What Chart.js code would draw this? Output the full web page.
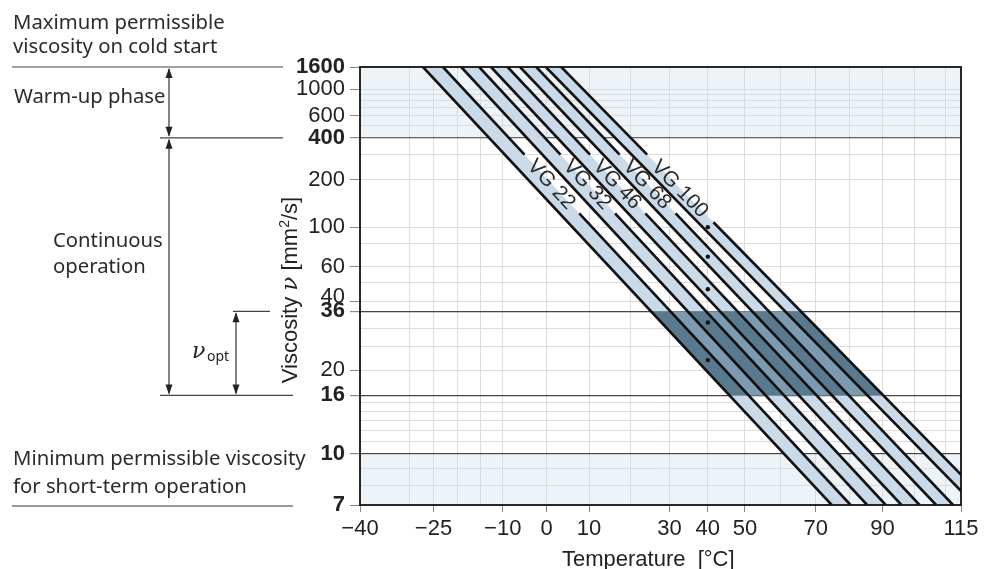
<!DOCTYPE html>
<html><head><meta charset="utf-8">
<script src="https://cdn.jsdelivr.net/npm/chart.js@4.4.1/dist/chart.umd.min.js"></script>
<style>html,body{margin:0;padding:0;background:#fff}#wrap{width:985px;height:569px;position:relative}</style>
</head><body><div id="wrap"><canvas id="c" width="985" height="569"></canvas></div>
<script>
// ---------- data ----------
const gradeNames = ['VG 22', 'VG 32', 'VG 46', 'VG 68', 'VG 100'];
const refTemp = 40;                                  // °C, nominal point (dots)
const gradeVisc40 = [22, 32, 46, 68, 100];           // mm²/s at 40 °C
// temperatures (°C) where the two boundary lines of each grade band cross 1600 and 7 mm²/s
const lowerLineTempAt1600 = [-27.2, -19.1, -12.6, -6.1, -0.2];
const upperLineTempAt1600 = [-23.0, -15.2, -8.9, -2.4, 3.4];
const lowerLineTempAt7 = [74.7, 85.3, 95.9, 106.9, 119.6];
const upperLineTempAt7 = [80.3, 91.0, 101.6, 112.4, 124.9];
// viscosity span of the label (gap in the upper line)
const labelGapStart = [300, 300, 300, 300, 300];
const labelGapEnd = [121, 121, 121, 121, 107];

const tempRange = [-40, 115];
const viscRange = [7, 1600];
const warmUpZone = [400, 1600];
const shortTermZone = [7, 10];
const optRange = [16, 36];

const xGridTemps = [-40, -30, -25, -20, -15, -10, 0, 10, 20, 30, 40, 50, 60, 70, 80, 90, 100, 110, 115];
const xLabelTemps = [-40, -25, -10, 0, 10, 30, 40, 50, 70, 90, 115];
const yGridVisc = [1600, 1000, 900, 800, 700, 600, 500, 400, 300, 200, 100, 80, 60, 50, 40, 36, 30, 25, 20, 16, 15, 14, 13, 12, 11, 10, 9, 8, 7];
const yLabelVisc = [1600, 1000, 600, 400, 200, 100, 60, 40, 36, 20, 16, 10, 7];
const yBoldVisc = [1600, 400, 36, 16, 10, 7];
const yRaisedLabel = [40];
const yDarkLines = [400, 36, 16, 10];

// ---------- chart transforms (Ubbelohde-Walther) ----------
const X = t => Math.log10(t + 273.15);
const Y = v => Math.log10(Math.log10(v + 0.7));
const Y_TOP = Y(viscRange[1]), Y_BOT = Y(viscRange[0]);
const xAtY = (tTop, tBot, yv) => { const f = (yv - Y_TOP) / (Y_BOT - Y_TOP); return X(tTop) + f * (X(tBot) - X(tTop)); };

const BAND = '#cbdae8', MED = '#7c9ab0', DARK = '#59798f', LINE = '#111', GRID = '#dddddd';
const TICKFONT = '"Liberation Sans", Arial, sans-serif';
const fmtT = t => t < 0 ? '\u2212' + Math.abs(t) : String(t);

const shape = { pointRadius: 0, pointHoverRadius: 0, borderWidth: 0, borderColor: 'rgba(0,0,0,0)', fill: 'shape', clip: 0 };
const datasets = [];
[warmUpZone, shortTermZone].forEach(z => datasets.push({ ...shape, order: 50, backgroundColor: 'rgba(200,218,228,0.32)',
  data: [{x: X(tempRange[0]), y: Y(z[1])}, {x: X(tempRange[1]), y: Y(z[1])}, {x: X(tempRange[1]), y: Y(z[0])}, {x: X(tempRange[0]), y: Y(z[0])}] }));
gradeNames.forEach((g, k) => datasets.push({ ...shape, order: 40, backgroundColor: BAND,
  data: [{x: X(lowerLineTempAt1600[k]), y: Y_TOP}, {x: X(lowerLineTempAt7[k]), y: Y_BOT}, {x: X(upperLineTempAt7[k]), y: Y_BOT}, {x: X(upperLineTempAt1600[k]), y: Y_TOP}] }));
const yHi = Y(optRange[1]), yLo = Y(optRange[0]);
const lastG = gradeNames.length - 1;
datasets.push({ ...shape, order: 30, backgroundColor: MED, data: [
  {x: xAtY(lowerLineTempAt1600[0], lowerLineTempAt7[0], yHi), y: yHi},
  {x: xAtY(upperLineTempAt1600[lastG], upperLineTempAt7[lastG], yHi), y: yHi},
  {x: xAtY(upperLineTempAt1600[lastG], upperLineTempAt7[lastG], yLo), y: yLo},
  {x: xAtY(lowerLineTempAt1600[0], lowerLineTempAt7[0], yLo), y: yLo}] });
gradeNames.forEach((g, k) => datasets.push({ ...shape, order: 20, backgroundColor: DARK, data: [
  {x: xAtY(lowerLineTempAt1600[k], lowerLineTempAt7[k], yHi), y: yHi},
  {x: xAtY(upperLineTempAt1600[k], upperLineTempAt7[k], yHi), y: yHi},
  {x: xAtY(upperLineTempAt1600[k], upperLineTempAt7[k], yLo), y: yLo},
  {x: xAtY(lowerLineTempAt1600[k], lowerLineTempAt7[k], yLo), y: yLo}] }));
const lineOpts = { order: 10, borderColor: LINE, borderWidth: 2.6, pointRadius: 0, pointHoverRadius: 0, fill: false, clip: 0, tension: 0, borderCapStyle: 'butt' };
gradeNames.forEach((g, k) => {
  datasets.push({ ...lineOpts, data: [{x: X(lowerLineTempAt1600[k]), y: Y_TOP}, {x: X(lowerLineTempAt7[k]), y: Y_BOT}] });
  const g1 = Y(labelGapStart[k]), g2 = Y(labelGapEnd[k]);
  datasets.push({ ...lineOpts, label: g,
    data: [{x: X(upperLineTempAt1600[k]), y: Y_TOP},
           {x: xAtY(upperLineTempAt1600[k], upperLineTempAt7[k], g1), y: g1},
           {x: xAtY(upperLineTempAt1600[k], upperLineTempAt7[k], g2), y: g2},
           {x: X(upperLineTempAt7[k]), y: Y_BOT}],
    segment: { borderColor: c => c.p0DataIndex === 1 ? 'rgba(0,0,0,0)' : LINE } });
});
datasets.push({ order: 5, showLine: false, data: gradeVisc40.map(v => ({x: X(refTemp), y: Y(v)})),
  pointRadius: 2.2, pointBackgroundColor: '#111', pointBorderWidth: 0, pointHoverRadius: 0 });

function hline(ctx, x1, x2, y, color, w) { ctx.strokeStyle = color; ctx.lineWidth = w; ctx.beginPath(); ctx.moveTo(x1, y); ctx.lineTo(x2, y); ctx.stroke(); }
function arrow(ctx, x, y1, y2) {
  ctx.strokeStyle = '#333'; ctx.fillStyle = '#222'; ctx.lineWidth = 1.2;
  ctx.beginPath(); ctx.moveTo(x, y1 + 2); ctx.lineTo(x, y2 - 2); ctx.stroke();
  ctx.beginPath(); ctx.moveTo(x, y1 + 1); ctx.lineTo(x - 3.5, y1 + 11); ctx.lineTo(x + 3.5, y1 + 11); ctx.closePath(); ctx.fill();
  ctx.beginPath(); ctx.moveTo(x, y2 - 1); ctx.lineTo(x - 3.5, y2 - 11); ctx.lineTo(x + 3.5, y2 - 11); ctx.closePath(); ctx.fill();
}

const annot = {
  id: 'annot',
  afterDatasetsDraw(chart) {
    const {ctx, chartArea: a, scales: {x, y}} = chart;
    ctx.save();
    ctx.strokeStyle = '#111'; ctx.lineWidth = 1.8;
    ctx.strokeRect(a.left, a.top, a.right - a.left, a.bottom - a.top);
    // grade labels along the upper line of each band
    ctx.fillStyle = '#2a2a2a'; ctx.font = '21px ' + TICKFONT; ctx.textAlign = 'center'; ctx.textBaseline = 'middle';
    gradeNames.forEach((g, k) => {
      const g1 = Y(labelGapStart[k]), g2 = Y(labelGapEnd[k]);
      const px1 = x.getPixelForValue(xAtY(upperLineTempAt1600[k], upperLineTempAt7[k], g1)), py1 = y.getPixelForValue(g1);
      const px2 = x.getPixelForValue(xAtY(upperLineTempAt1600[k], upperLineTempAt7[k], g2)), py2 = y.getPixelForValue(g2);
      ctx.save(); ctx.translate((px1 + px2) / 2, (py1 + py2) / 2); ctx.rotate(Math.atan2(py2 - py1, px2 - px1));
      ctx.fillText(g, 0, 1); ctx.restore();
    });
    ctx.restore();
  },
  afterDraw(chart) {
    const {ctx, scales: {y}} = chart;
    const py = v => y.getPixelForValue(Y(v));
    ctx.save();
    ctx.fillStyle = '#2b2b2b'; ctx.font = '20.3px "Noto Sans"'; ctx.textAlign = 'left'; ctx.textBaseline = 'alphabetic';
    ctx.fillText('Maximum permissible', 13, 29);
    ctx.fillText('viscosity on cold start', 13, 53);
    ctx.fillText('Warm-up phase', 14, 103);
    ctx.fillText('Continuous', 53, 247);
    ctx.fillText('operation', 53, 273);
    ctx.fillText('Minimum permissible viscosity', 13, 465);
    ctx.fillText('for short-term operation', 13, 493);
    hline(ctx, 12, 283, py(1600), '#444', 1.2);
    hline(ctx, 160, 283, py(400), '#444', 1.2);
    hline(ctx, 233, 270, py(36), '#444', 1.2);
    hline(ctx, 160, 293, py(16), '#444', 1.2);
    hline(ctx, 12, 293, py(7) + 1, '#999', 2);
    arrow(ctx, 169, py(1600), py(400));
    arrow(ctx, 169, py(400), py(16));
    arrow(ctx, 236, py(36), py(16));
    ctx.fillStyle = '#222';
    ctx.font = 'italic 22px "DejaVu Serif"'; ctx.fillText('ν', 192, 358);
    ctx.font = '14px "Noto Sans"'; ctx.fillText('opt', 207, 361);
    // y-axis title
    ctx.save(); ctx.translate(289, 290); ctx.rotate(-Math.PI / 2);
    const parts = [
      {t: 'Viscosity ', f: '22px ' + TICKFONT},
      {t: 'ν', f: 'italic 23px "DejaVu Serif"'},
      {t: ' [mm', f: '22px ' + TICKFONT},
      {t: '2', f: '14px ' + TICKFONT, dy: -8},
      {t: '/s]', f: '22px ' + TICKFONT}];
    let total = 0;
    parts.forEach(p => { ctx.font = p.f; p.w = ctx.measureText(p.t).width; total += p.w; });
    let xx = -total / 2;
    parts.forEach(p => { ctx.font = p.f; ctx.fillText(p.t, xx, 8 + (p.dy || 0)); xx += p.w; });
    ctx.restore();
    ctx.restore();
  }
};

new Chart(document.getElementById('c'), {
  type: 'line',
  data: { datasets },
  plugins: [annot],
  options: {
    responsive: false, animation: false, events: [],
    layout: { padding: { left: 275, right: 24, top: 67, bottom: 0 } },
    plugins: { legend: { display: false }, tooltip: { enabled: false } },
    scales: {
      x: {
        type: 'linear', min: X(tempRange[0]), max: X(tempRange[1]),
        afterBuildTicks: s => { s.ticks = xGridTemps.map(t => ({ value: X(t) })); },
        afterFit: s => { s.height = 64; s.paddingLeft = 0; s.paddingRight = 0; },
        ticks: { autoSkip: false, maxRotation: 0, minRotation: 0, padding: 4, color: '#222',
          font: { family: TICKFONT, size: 22 },
          callback: (v, i) => xLabelTemps.includes(xGridTemps[i]) ? fmtT(xGridTemps[i]) : '' },
        grid: { lineWidth: 1, tickLength: 7,
          color: c => (xGridTemps[c.index] === tempRange[0] || xGridTemps[c.index] === tempRange[1]) ? 'rgba(0,0,0,0)' : GRID,
          tickColor: c => xLabelTemps.includes(xGridTemps[c.index]) ? '#888' : 'rgba(0,0,0,0)' },
        border: { display: false },
        title: { display: true, text: 'Temperature  [°C]    ', color: '#222', font: { family: TICKFONT, size: 22, lineHeight: 0.85 }, padding: { top: 0, bottom: 0 } }
      },
      y: {
        type: 'linear', min: Y_BOT, max: Y_TOP,
        afterBuildTicks: s => { s.ticks = yGridVisc.map(v => ({ value: Y(v) })); },
        afterFit: s => { s.width = 85; s.paddingTop = 0; s.paddingBottom = 0; },
        ticks: { autoSkip: false, padding: 5, color: '#222',
          font: c => ({ family: TICKFONT, size: 22, lineHeight: yRaisedLabel.includes(yGridVisc[c.index]) ? '9px' : 1.2,
                        weight: yBoldVisc.includes(yGridVisc[c.index]) ? 'bold' : 'normal' }),
          callback: (v, i) => { const val = yGridVisc[i]; if (!yLabelVisc.includes(val)) return ''; return yRaisedLabel.includes(val) ? [String(val), ''] : String(val); } },
        grid: { tickLength: 10,
          lineWidth: c => yDarkLines.includes(yGridVisc[c.index]) ? 1.2 : 1,
          color: c => { const v = yGridVisc[c.index]; if (v === viscRange[0] || v === viscRange[1]) return 'rgba(0,0,0,0)'; return yDarkLines.includes(v) ? '#444' : GRID; },
          tickColor: c => yLabelVisc.includes(yGridVisc[c.index]) ? '#888' : 'rgba(0,0,0,0)' },
        border: { display: false },
        title: { display: false }
      }
    }
  }
});
</script>
</body></html>
